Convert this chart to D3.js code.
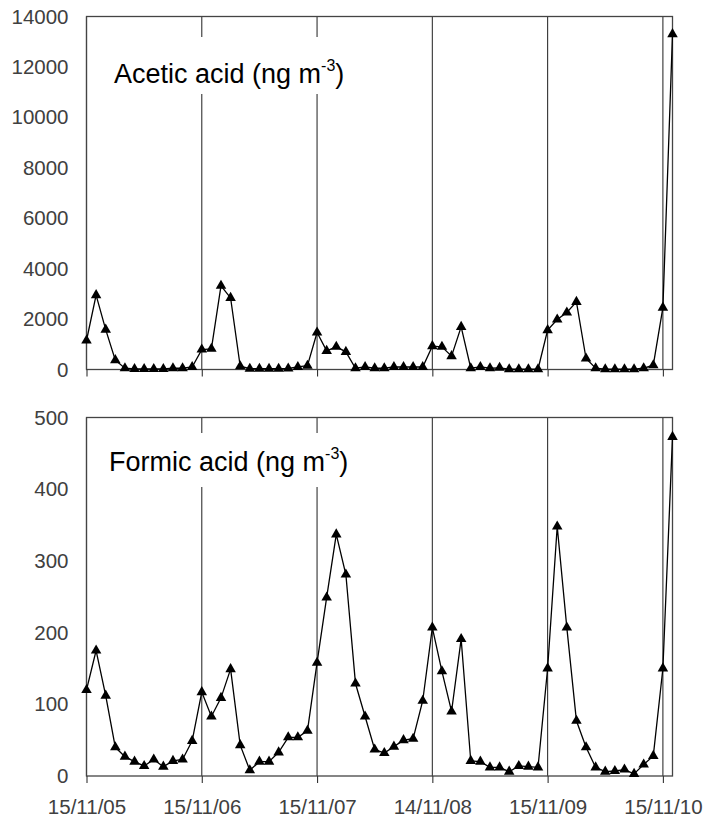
<!DOCTYPE html>
<html>
<head>
<meta charset="utf-8">
<script src="https://cdn.jsdelivr.net/npm/d3@7"></script>
<style>
  body { margin: 0; background: #fff; }
  svg { display: block; }
</style>
</head>
<body>
<div id="chart"></div>
<script>
// monthly samples, index 0 = 15/11/05
const acetic = [
  1150, 2950, 1580, 370, 50, 20, 20, 20, 20, 50, 50, 100,
  790, 820, 3320, 2840, 130, 30, 30, 30, 30, 40, 100, 150,
  1465, 740, 900, 700, 50, 100, 50, 50, 100, 100, 100, 100,
  925, 900, 530, 1690, 50, 100, 50, 66, 10, 10, 10, 10,
  1560, 1980, 2260, 2680, 435, 50, 10, 10, 10, 10, 50, 170,
  2455, 13300
];
const formic = [
  120, 175, 112, 40, 27, 20, 14, 23, 13, 21, 23, 49,
  117, 83, 109, 149, 43, 8, 20, 20, 33, 54, 54, 63,
  158, 249, 337, 281, 129, 83, 37, 32, 41, 50, 52, 105,
  207, 146, 90, 191, 21, 20, 12, 12, 6, 14, 13, 12,
  150, 348, 207, 77, 40, 12, 6, 7, 9, 3, 16, 28,
  150, 473
];
const yearTicks = [0, 12, 24, 36, 48, 60];
const yearLabels = ["15/11/05", "15/11/06", "15/11/07", "14/11/08", "15/11/09", "15/11/10"];
const aceticTicks = [0, 2000, 4000, 6000, 8000, 10000, 12000, 14000];
const formicTicks = [0, 100, 200, 300, 400, 500];

const width = 705;
const height = 823;
const left = 86.5;
const right = 672.5;
const font = "Liberation Sans, Arial, sans-serif";

const svg = d3.select("#chart")
  .append("svg")
  .attr("width", width)
  .attr("height", height);

const x = d3.scaleLinear()
  .domain([0, acetic.length - 1])
  .range([left, right]);

const panels = [
  { values: acetic, ticks: aceticTicks, top: 16.5, bottom: 369.5, name: "Acetic acid",
    labelX: 114, labelY: 83, box: [105, 37, 250, 57], showDates: false },
  { values: formic, ticks: formicTicks, top: 417.5, bottom: 776, name: "Formic acid",
    labelX: 109, labelY: 471, box: [100, 433, 255, 54], showDates: true }
];

panels.forEach(p => {
  const y = d3.scaleLinear()
    .domain([0, d3.max(p.ticks)])
    .range([p.bottom, p.top]);

  const g = svg.append("g");

  // vertical year lines
  g.selectAll(".grid")
    .data(yearTicks)
    .enter()
    .append("line")
    .attr("x1", d => x(d))
    .attr("x2", d => x(d))
    .attr("y1", p.top)
    .attr("y2", p.bottom)
    .attr("stroke", "#333")
    .attr("stroke-width", 1.1);

  // white box behind the panel title
  g.append("rect")
    .attr("x", p.box[0])
    .attr("y", p.box[1])
    .attr("width", p.box[2])
    .attr("height", p.box[3])
    .attr("fill", "#fff");

  const title = g.append("text")
    .attr("x", p.labelX)
    .attr("y", p.labelY)
    .attr("font-family", font)
    .attr("font-size", 27)
    .attr("fill", "#000");
  title.append("tspan").text(`${p.name} (ng m`);
  title.append("tspan").attr("font-size", 16).attr("dy", -12).text("-3");
  title.append("tspan").attr("dy", 12).text(")");

  // frame
  g.append("rect")
    .attr("x", left)
    .attr("y", p.top)
    .attr("width", right - left)
    .attr("height", p.bottom - p.top)
    .attr("fill", "none")
    .attr("stroke", "#444")
    .attr("stroke-width", 1.3);

  const xAxis = g.append("g")
    .attr("transform", `translate(0,${p.bottom})`)
    .call(d3.axisBottom(x)
      .tickValues(yearTicks)
      .tickSize(7)
      .tickPadding(16)
      .tickFormat((d, i) => p.showDates ? yearLabels[i] : ""));
  xAxis.select(".domain").remove();
  xAxis.selectAll("line").attr("stroke", "#333").attr("stroke-width", 1.1);
  xAxis.selectAll("text")
    .attr("font-family", font)
    .attr("font-size", 20.5)
    .attr("fill", "#404040");

  const yAxis = g.append("g")
    .attr("transform", `translate(${left},0)`)
    .call(d3.axisLeft(y)
      .tickValues(p.ticks)
      .tickSize(0)
      .tickPadding(18)
      .tickFormat(d3.format("d")));
  yAxis.select(".domain").remove();
  yAxis.selectAll("text")
    .attr("font-family", font)
    .attr("font-size", 20.5)
    .attr("fill", "#404040");

  const line = d3.line()
    .x((d, i) => x(i))
    .y(d => y(d));

  g.append("path")
    .datum(p.values)
    .attr("d", line)
    .attr("fill", "none")
    .attr("stroke", "#000")
    .attr("stroke-width", 1.3);

  g.selectAll(".marker")
    .data(p.values)
    .enter()
    .append("path")
    .attr("d", d3.symbol(d3.symbolTriangle).size(48))
    .attr("transform", (d, i) => `translate(${x(i)},${y(d)})`)
    .attr("fill", "#000");
});
</script>
</body>
</html>
